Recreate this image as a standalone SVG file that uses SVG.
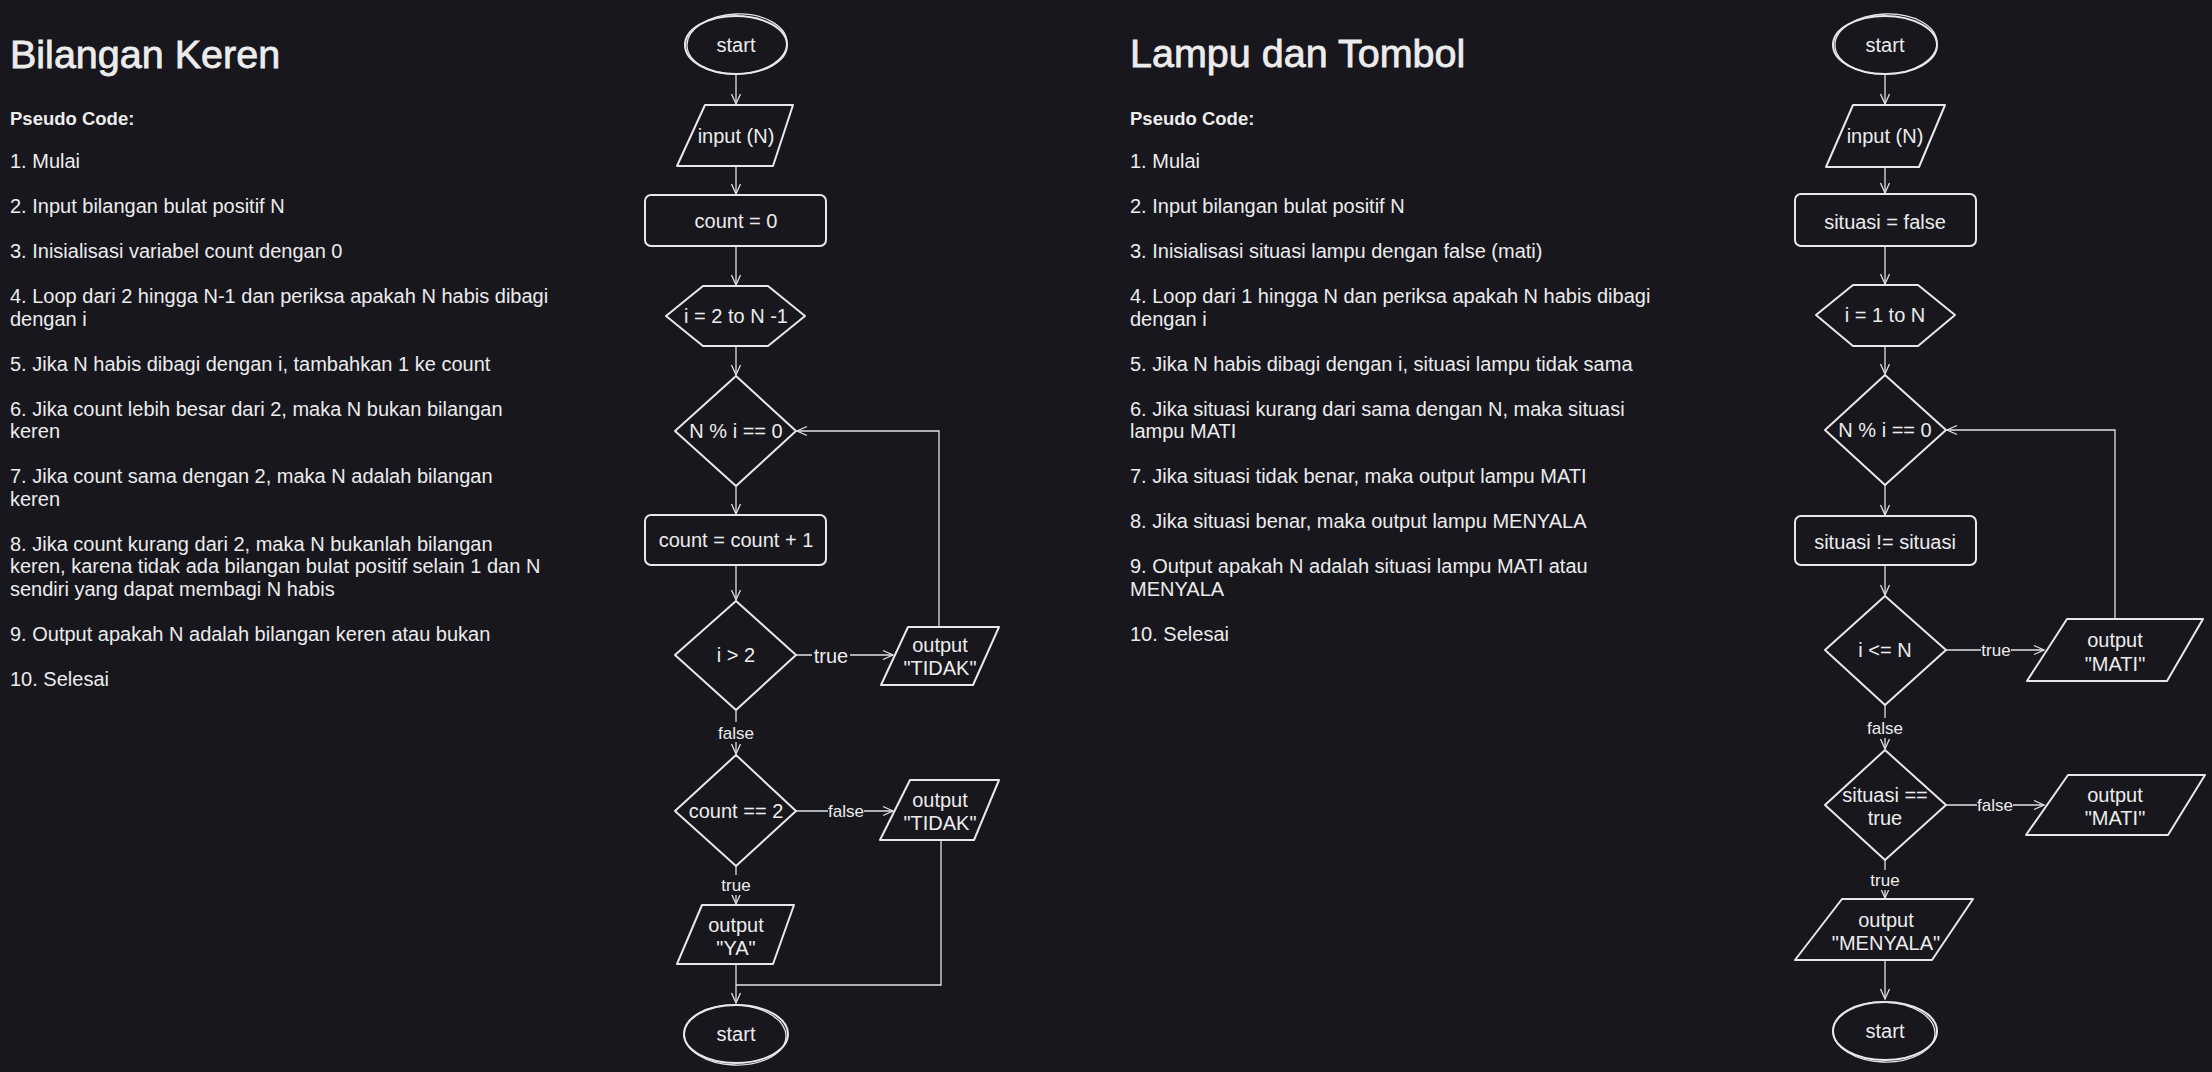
<svg xmlns="http://www.w3.org/2000/svg" width="2212" height="1072" viewBox="0 0 2212 1072">
<defs>
<style>
.bg{fill:#18171e}
.t{font-family:"Liberation Sans",Arial,sans-serif;fill:#ececec}
.title{font-size:39.5px;stroke:#ececec;stroke-width:0.8}
.h{font-size:18.5px;font-weight:bold}
.b{font-size:20px}
.n{font-size:20px;text-anchor:middle}
.lb{font-size:17px;text-anchor:middle}
.s{fill:#18171e;stroke:#e8e8e8;stroke-width:2;stroke-linejoin:round}
.s2{fill:none;stroke:#e8e8e8;stroke-width:1.3}
.c{fill:none;stroke:#e2e2e2;stroke-width:1.3}
</style>
<marker id="ah" markerWidth="14" markerHeight="12" refX="11" refY="6" orient="auto" markerUnits="userSpaceOnUse"><path d="M1,1.5 L11,6 L1,10.5" fill="none" stroke="#e2e2e2" stroke-width="1.3"/></marker>
</defs>
<rect class="bg" x="0" y="0" width="2212" height="1072"/>

<g id="text-left" class="t">
<text class="t title" x="10" y="68">Bilangan Keren</text>
<text class="t h" x="10" y="125">Pseudo Code:</text>
<text class="t b" x="10" y="168">1. Mulai</text>
<text class="t b" x="10" y="213">2. Input bilangan bulat positif N</text>
<text class="t b" x="10" y="258">3. Inisialisasi variabel count dengan 0</text>
<text class="t b" x="10" y="303">4. Loop dari 2 hingga N-1 dan periksa apakah N habis dibagi</text>
<text class="t b" x="10" y="325.5">dengan i</text>
<text class="t b" x="10" y="370.5">5. Jika N habis dibagi dengan i, tambahkan 1 ke count</text>
<text class="t b" x="10" y="415.5">6. Jika count lebih besar dari 2, maka N bukan bilangan</text>
<text class="t b" x="10" y="438">keren</text>
<text class="t b" x="10" y="483">7. Jika count sama dengan 2, maka N adalah bilangan</text>
<text class="t b" x="10" y="505.5">keren</text>
<text class="t b" x="10" y="550.5">8. Jika count kurang dari 2, maka N bukanlah bilangan</text>
<text class="t b" x="10" y="573">keren, karena tidak ada bilangan bulat positif selain 1 dan N</text>
<text class="t b" x="10" y="595.5">sendiri yang dapat membagi N habis</text>
<text class="t b" x="10" y="640.5">9. Output apakah N adalah bilangan keren atau bukan</text>
<text class="t b" x="10" y="685.5">10. Selesai</text>
</g>

<g id="text-right" class="t">
<text class="t title" x="1130" y="67">Lampu dan Tombol</text>
<text class="t h" x="1130" y="125">Pseudo Code:</text>
<text class="t b" x="1130" y="168">1. Mulai</text>
<text class="t b" x="1130" y="213">2. Input bilangan bulat positif N</text>
<text class="t b" x="1130" y="258">3. Inisialisasi situasi lampu dengan false (mati)</text>
<text class="t b" x="1130" y="303">4. Loop dari 1 hingga N dan periksa apakah N habis dibagi</text>
<text class="t b" x="1130" y="325.5">dengan i</text>
<text class="t b" x="1130" y="370.5">5. Jika N habis dibagi dengan i, situasi lampu tidak sama</text>
<text class="t b" x="1130" y="415.5">6. Jika situasi kurang dari sama dengan N, maka situasi</text>
<text class="t b" x="1130" y="438">lampu MATI</text>
<text class="t b" x="1130" y="483">7. Jika situasi tidak benar, maka output lampu MATI</text>
<text class="t b" x="1130" y="528">8. Jika situasi benar, maka output lampu MENYALA</text>
<text class="t b" x="1130" y="573">9. Output apakah N adalah situasi lampu MATI atau</text>
<text class="t b" x="1130" y="595.5">MENYALA</text>
<text class="t b" x="1130" y="640.5">10. Selesai</text>
</g>

<g id="connectors">
<!-- left -->
<path class="c" d="M736,75 V104" marker-end="url(#ah)"/>
<path class="c" d="M736,166 V194" marker-end="url(#ah)"/>
<path class="c" d="M736,246 V285" marker-end="url(#ah)"/>
<path class="c" d="M736,346 V375" marker-end="url(#ah)"/>
<path class="c" d="M736,486 V514" marker-end="url(#ah)"/>
<path class="c" d="M736,565 V600" marker-end="url(#ah)"/>
<path class="c" d="M796,655 H893" marker-end="url(#ah)"/>
<path class="c" d="M736,710 V754" marker-end="url(#ah)"/>
<path class="c" d="M796,811 H893" marker-end="url(#ah)"/>
<path class="c" d="M736,866 V904" marker-end="url(#ah)"/>
<path class="c" d="M736,964 V1003" marker-end="url(#ah)"/>
<path class="c" d="M941,840 V985 H736"/>
<path class="c" d="M939,627 V431 H797" marker-end="url(#ah)"/>
<!-- right -->
<path class="c" d="M1885,75 V104" marker-end="url(#ah)"/>
<path class="c" d="M1885,167 V193" marker-end="url(#ah)"/>
<path class="c" d="M1885,246 V284" marker-end="url(#ah)"/>
<path class="c" d="M1885,346 V374" marker-end="url(#ah)"/>
<path class="c" d="M1885,485 V515" marker-end="url(#ah)"/>
<path class="c" d="M1885,565 V595" marker-end="url(#ah)"/>
<path class="c" d="M1946,650 H2044" marker-end="url(#ah)"/>
<path class="c" d="M1885,705 V749" marker-end="url(#ah)"/>
<path class="c" d="M1946,805 H2044" marker-end="url(#ah)"/>
<path class="c" d="M1885,860 V898" marker-end="url(#ah)"/>
<path class="c" d="M1885,960 V999" marker-end="url(#ah)"/>
<path class="c" d="M2115,619 V430 H1947" marker-end="url(#ah)"/>
<!-- labels -->
<g id="labels">
<rect class="bg" x="812" y="645" width="38" height="22"/>
<text class="t lb" x="831" y="663" style="font-size:20px">true</text>
<rect class="bg" x="718" y="722" width="36" height="20"/>
<text class="t lb" x="736" y="739">false</text>
<rect class="bg" x="828" y="801" width="36" height="20"/>
<text class="t lb" x="846" y="817">false</text>
<rect class="bg" x="721" y="875" width="30" height="20"/>
<text class="t lb" x="736" y="891">true</text>
<rect class="bg" x="1981" y="640" width="30" height="20"/>
<text class="t lb" x="1996" y="656">true</text>
<rect class="bg" x="1867" y="718" width="36" height="20"/>
<text class="t lb" x="1885" y="734">false</text>
<rect class="bg" x="1977" y="795" width="36" height="20"/>
<text class="t lb" x="1995" y="811">false</text>
<rect class="bg" x="1870" y="870" width="30" height="20"/>
<text class="t lb" x="1885" y="886">true</text>
</g>
</g>

<!-- LEFT NODES -->
<g id="L-start">
<ellipse class="s" cx="736" cy="45" rx="51" ry="29"/>
<ellipse class="s2" cx="737" cy="44" rx="50" ry="30" transform="rotate(-2 737 44)"/>
<text class="t n" x="736" y="52">start</text>
</g>
<g id="L-input">
<path class="s" d="M705,105 H793 L773,166 H677 Z"/>
<text class="t n" x="736" y="143">input (N)</text>
</g>
<g id="L-count0">
<rect class="s" x="645" y="195" width="181" height="51" rx="6"/>
<text class="t n" x="736" y="228">count = 0</text>
</g>
<g id="L-loop">
<path class="s" d="M666,316 L703,286 H768 L805,316 L768,346 H703 Z"/>
<text class="t n" x="736" y="323">i = 2 to N -1</text>
</g>
<g id="L-mod">
<path class="s" d="M736,376 L796,431 L736,486 L675,431 Z"/>
<text class="t n" x="736" y="438">N % i == 0</text>
</g>
<g id="L-inc">
<rect class="s" x="645" y="515" width="181" height="50" rx="6"/>
<text class="t n" x="736" y="547">count = count + 1</text>
</g>
<g id="L-igt2">
<path class="s" d="M736,601 L796,655 L736,710 L675,655 Z"/>
<text class="t n" x="736" y="662">i &gt; 2</text>
</g>
<g id="L-tidak1">
<path class="s" d="M908,627 H999 L973,685 H881 Z"/>
<text class="t n" x="940" y="652">output</text>
<text class="t n" x="940" y="675">"TIDAK"</text>
</g>
<g id="L-count2">
<path class="s" d="M736,755 L796,811 L736,866 L675,811 Z"/>
<text class="t n" x="736" y="818">count == 2</text>
</g>
<g id="L-tidak2">
<path class="s" d="M910,780 H999 L974,840 H880 Z"/>
<text class="t n" x="940" y="807">output</text>
<text class="t n" x="940" y="830">"TIDAK"</text>
</g>
<g id="L-ya">
<path class="s" d="M702,905 H794 L773,964 H677 Z"/>
<text class="t n" x="736" y="932">output</text>
<text class="t n" x="736" y="955">"YA"</text>
</g>
<g id="L-end">
<ellipse class="s" cx="736" cy="1034" rx="52" ry="29"/>
<ellipse class="s2" cx="735" cy="1035" rx="51" ry="30" transform="rotate(2 735 1035)"/>
<text class="t n" x="736" y="1041">start</text>
</g>

<!-- RIGHT NODES -->
<g id="R-start">
<ellipse class="s" cx="1885" cy="45" rx="52" ry="29"/>
<ellipse class="s2" cx="1886" cy="44" rx="51" ry="30" transform="rotate(-2 1886 44)"/>
<text class="t n" x="1885" y="52">start</text>
</g>
<g id="R-input">
<path class="s" d="M1853,105 H1945 L1919,167 H1826 Z"/>
<text class="t n" x="1885" y="143">input (N)</text>
</g>
<g id="R-init">
<rect class="s" x="1795" y="194" width="181" height="52" rx="6"/>
<text class="t n" x="1885" y="229">situasi = false</text>
</g>
<g id="R-loop">
<path class="s" d="M1816,315 L1853,285 H1918 L1955,315 L1918,346 H1853 Z"/>
<text class="t n" x="1885" y="322">i = 1 to N</text>
</g>
<g id="R-mod">
<path class="s" d="M1885,375 L1946,430 L1885,485 L1825,430 Z"/>
<text class="t n" x="1885" y="437">N % i == 0</text>
</g>
<g id="R-toggle">
<rect class="s" x="1795" y="516" width="181" height="49" rx="6"/>
<text class="t n" x="1885" y="549">situasi != situasi</text>
</g>
<g id="R-ilen">
<path class="s" d="M1885,596 L1946,650 L1885,705 L1825,650 Z"/>
<text class="t n" x="1885" y="657">i &lt;= N</text>
</g>
<g id="R-mati1">
<path class="s" d="M2067,619 H2203 L2167,681 H2027 Z"/>
<text class="t n" x="2115" y="647">output</text>
<text class="t n" x="2115" y="671">"MATI"</text>
</g>
<g id="R-true">
<path class="s" d="M1885,750 L1946,805 L1885,860 L1825,805 Z"/>
<text class="t n" x="1885" y="802">situasi ==</text>
<text class="t n" x="1885" y="825">true</text>
</g>
<g id="R-mati2">
<path class="s" d="M2068,775 H2205 L2168,835 H2026 Z"/>
<text class="t n" x="2115" y="802">output</text>
<text class="t n" x="2115" y="825">"MATI"</text>
</g>
<g id="R-menyala">
<path class="s" d="M1842,899 H1973 L1932,960 H1795 Z"/>
<text class="t n" x="1886" y="927">output</text>
<text class="t n" x="1886" y="950">"MENYALA"</text>
</g>
<g id="R-end">
<ellipse class="s" cx="1885" cy="1031" rx="52" ry="29"/>
<ellipse class="s2" cx="1884" cy="1032" rx="51" ry="30" transform="rotate(2 1884 1032)"/>
<text class="t n" x="1885" y="1038">start</text>
</g>
</svg>
